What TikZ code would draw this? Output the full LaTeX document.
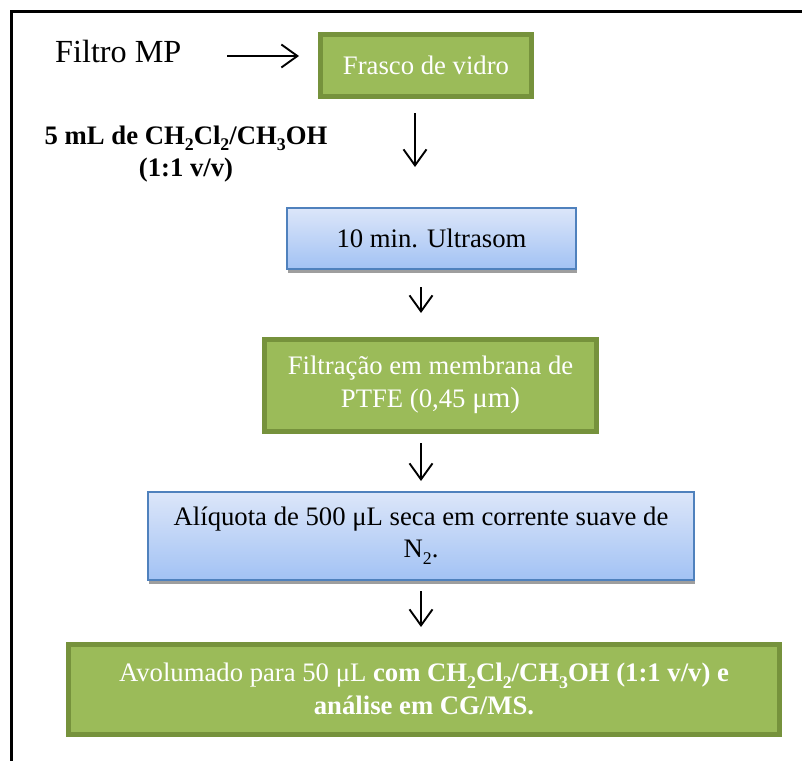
\documentclass[tikz,border=0pt]{standalone}
\usepackage{fontspec}
\setmainfont{Liberation Serif}
\usetikzlibrary{arrows.meta,shadows}

\definecolor{olivefill}{HTML}{9BBB59}
\definecolor{olivedark}{HTML}{76923C}
\definecolor{bluetop}{HTML}{DCE6F9}
\definecolor{bluebot}{HTML}{A2C2F4}
\definecolor{blueedge}{HTML}{4F81BD}

% lowered, smaller figure for chemical formulas
\newcommand\chemsub[1]{\raisebox{-0.25em}{\fontsize{17.8}{17.8}\selectfont #1}}

\tikzset{
  greenbox/.style={draw=olivedark, fill=olivefill, line width=5pt, inner sep=0pt,
    text=white, align=center, font=\fontsize{26.7}{33}\selectfont},
  bluebox/.style={draw=blueedge, line width=1.5pt, top color=bluetop, bottom color=bluebot,
    inner sep=0pt, align=center, font=\fontsize{26.7}{32}\selectfont,
    drop shadow={shadow xshift=1pt, shadow yshift=-4pt, fill=black!38, opacity=1}},
  plaintext/.style={inner sep=0pt, font=\fontsize{26.7}{30}\selectfont},
  flow/.style={line width=1.9pt, -{Straight Barb[length=16pt,width=23pt,line width=1.9pt]}},
}

\begin{document}
\begin{tikzpicture}[x=1pt,y=-1pt]
  \useasboundingbox (0,0) rectangle (802,760);
  \clip (0,0) rectangle (802,760);

  % outer frame, running past the right and lower edges
  \draw[line width=2.5pt] (11.3,11.3) rectangle (830,790);

  % source and first vessel
  \node[plaintext, anchor=base west, font=\fontsize{32.2}{34}\selectfont] (filtro) at (55,63) {Filtro MP};
  \node[greenbox, minimum width=211pt, minimum height=62pt] (frasco) at (426,65.5) {Frasco de vidro};

  \node[plaintext, align=center, anchor=base, font=\fontsize{26.7}{32}\selectfont\bfseries] (solvente) at (186,176)
    {5 mL de CH\chemsub{2}Cl\chemsub{2}/CH\chemsub{3}OH\\(1:1 v/v)};

  % process steps
  \node[bluebox, minimum width=289pt, minimum height=61pt] (ultra) at (431.5,238.5) {10 min. Ultrasom};
  \node[greenbox, minimum width=332pt, minimum height=92pt] (filtra) at (430.5,385)
    {Filtração em membrana de\\PTFE (0,45 {\fontsize{29}{35}\selectfont μm)}};
  \node[bluebox, minimum width=546pt, minimum height=88pt] (aliq) at (421,536)
    {Alíquota de 500 μL seca em corrente suave de\\N\chemsub{2}.};
  \node[greenbox, minimum width=711pt, minimum height=90pt] (final) at (424,689)
    {Avolumado para 50 μL \textbf{com CH\chemsub{2}Cl\chemsub{2}/CH\chemsub{3}OH (1:1 v/v) e}\\
     \textbf{análise em CG/MS.}};

  % arrow end points
  \coordinate (h0) at (227,56);   \coordinate (h1) at (299,56);
  \coordinate (v0) at (415,113);  \coordinate (v1) at (415,167);
  \coordinate (v2) at (421,287);  \coordinate (v3) at (421,313);
  \coordinate (v4) at (421,443);  \coordinate (v5) at (421,481);
  \coordinate (v6) at (421,591);  \coordinate (v7) at (421,627);

  \draw[flow] (h0) -- (h1);
  \draw[flow] (v0) -- (v1);
  \draw[flow] (v2) -- (v3);
  \draw[flow] (v4) -- (v5);
  \draw[flow] (v6) -- (v7);
\end{tikzpicture}
\end{document}
